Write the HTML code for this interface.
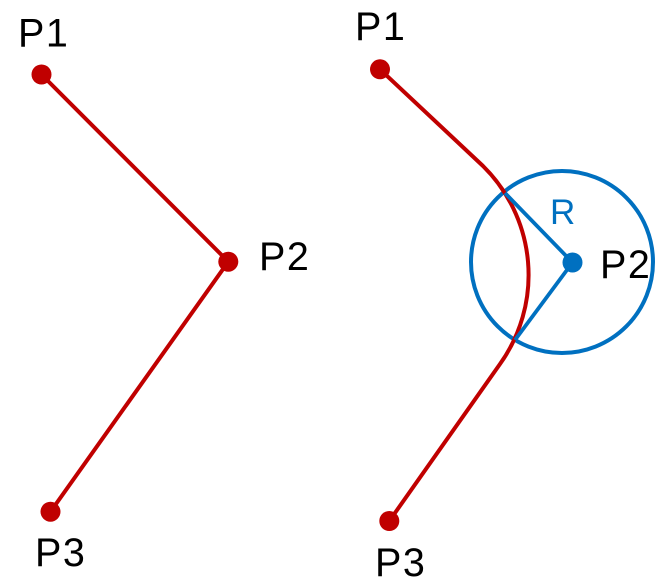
<!DOCTYPE html>
<html>
<head>
<meta charset="utf-8">
<style>
  html, body { margin: 0; padding: 0; background: #ffffff; }
  svg { display: block; }
  text { font-family: "Liberation Sans", Arial, sans-serif; }
</style>
</head>
<body>
<svg width="670" height="585" viewBox="0 0 670 585" xmlns="http://www.w3.org/2000/svg">
  <rect width="670" height="585" fill="#ffffff"/>

  <!-- Left diagram -->
  <polyline points="41.5,74.5 228.3,261.7 50.5,511.7" fill="none" stroke="#C00000" stroke-width="4" stroke-linejoin="round"/>
  <circle cx="41.5" cy="74.5" r="10" fill="#C00000"/>
  <circle cx="228.3" cy="261.7" r="10" fill="#C00000"/>
  <circle cx="50.5" cy="511.7" r="10" fill="#C00000"/>
  <text x="18" y="46.5" font-size="39.5" letter-spacing="1.5" fill="#000">P1</text>
  <text x="259" y="270" font-size="39.5" letter-spacing="1.5" fill="#000">P2</text>
  <text x="35" y="566" font-size="39.5" letter-spacing="1.5" fill="#000">P3</text>

  <!-- Right diagram -->
  <circle cx="562" cy="262" r="91" fill="none" stroke="#0070C0" stroke-width="4"/>
  <path d="M380,69.3 L483,166 A153,153 0 0 1 500,364 L389.3,521" fill="none" stroke="#C00000" stroke-width="4" stroke-linejoin="round"/>
  <line x1="572.5" y1="262.5" x2="505" y2="193" stroke="#0070C0" stroke-width="3.8"/>
  <line x1="572.5" y1="262.5" x2="515" y2="340" stroke="#0070C0" stroke-width="3.8"/>
  <circle cx="572.5" cy="262.5" r="10" fill="#0070C0"/>
  <circle cx="380" cy="69.3" r="10" fill="#C00000"/>
  <circle cx="389.3" cy="521" r="10" fill="#C00000"/>
  <text x="355" y="40" font-size="39.5" letter-spacing="1.5" fill="#000">P1</text>
  <text x="600" y="278" font-size="39.5" letter-spacing="1.5" fill="#000">P2</text>
  <text x="375" y="576" font-size="39.5" letter-spacing="1.5" fill="#000">P3</text>
  <text x="550" y="224" font-size="35" fill="#0070C0">R</text>
</svg>
</body>
</html>
